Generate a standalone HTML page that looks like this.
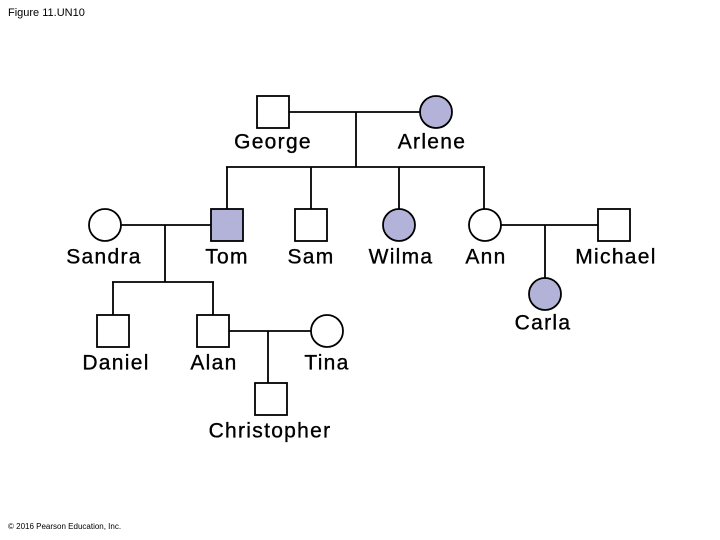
<!DOCTYPE html>
<html><head><meta charset="utf-8"><style>
html,body{margin:0;padding:0;background:#fff;}
svg{display:block;}
text{font-family:"Liberation Sans",Arial,sans-serif;fill:#000;}
.l{font-size:21px;text-anchor:middle;dominant-baseline:central;letter-spacing:1.3px;stroke:#000;stroke-width:0.35px;}
</style></head><body>
<svg width="720" height="540" viewBox="0 0 720 540" xmlns="http://www.w3.org/2000/svg">
<text x="8" y="16" font-size="11">Figure 11.UN10</text>
<text x="8" y="529" font-size="8">© 2016 Pearson Education, Inc.</text>
<g stroke="#000" stroke-width="1.8" fill="none">
<line x1="289" y1="112" x2="420" y2="112"/>
<line x1="356" y1="112" x2="356" y2="167"/>
<line x1="226" y1="167" x2="485" y2="167"/>
<line x1="227" y1="167" x2="227" y2="209"/>
<line x1="311" y1="167" x2="311" y2="209"/>
<line x1="399" y1="167" x2="399" y2="209"/>
<line x1="484" y1="167" x2="484" y2="209"/>
<line x1="121" y1="225" x2="211" y2="225"/>
<line x1="165" y1="225" x2="165" y2="282"/>
<line x1="112" y1="282" x2="214" y2="282"/>
<line x1="113" y1="282" x2="113" y2="315"/>
<line x1="213" y1="282" x2="213" y2="315"/>
<line x1="229" y1="331" x2="311" y2="331"/>
<line x1="268" y1="331" x2="268" y2="383"/>
<line x1="501" y1="225" x2="598" y2="225"/>
<line x1="545" y1="225" x2="545" y2="278"/>
</g>
<g stroke="#000" stroke-width="1.8">
<rect x="257" y="96" width="32" height="32" fill="#fff"/>
<circle cx="436" cy="112" r="16" fill="#b3b3d9"/>
<circle cx="105" cy="225" r="16" fill="#fff"/>
<rect x="211" y="209" width="32" height="32" fill="#b3b3d9"/>
<rect x="295" y="209" width="32" height="32" fill="#fff"/>
<circle cx="399" cy="225" r="16" fill="#b3b3d9"/>
<circle cx="485" cy="225" r="16" fill="#fff"/>
<rect x="598" y="209" width="32" height="32" fill="#fff"/>
<circle cx="545" cy="294" r="16" fill="#b3b3d9"/>
<rect x="97" y="315" width="32" height="32" fill="#fff"/>
<rect x="197" y="315" width="32" height="32" fill="#fff"/>
<circle cx="327" cy="331" r="16" fill="#fff"/>
<rect x="255" y="383" width="32" height="32" fill="#fff"/>
</g>
<text class="l" x="273" y="142">George</text>
<text class="l" x="432" y="142">Arlene</text>
<text class="l" x="104" y="257">Sandra</text>
<text class="l" x="227" y="257">Tom</text>
<text class="l" x="311" y="257">Sam</text>
<text class="l" x="401" y="257">Wilma</text>
<text class="l" x="486" y="257">Ann</text>
<text class="l" x="616" y="257">Michael</text>
<text class="l" x="543" y="323">Carla</text>
<text class="l" x="116" y="363">Daniel</text>
<text class="l" x="214" y="363">Alan</text>
<text class="l" x="327" y="363">Tina</text>
<text class="l" x="270" y="431">Christopher</text>
</svg>
</body></html>
